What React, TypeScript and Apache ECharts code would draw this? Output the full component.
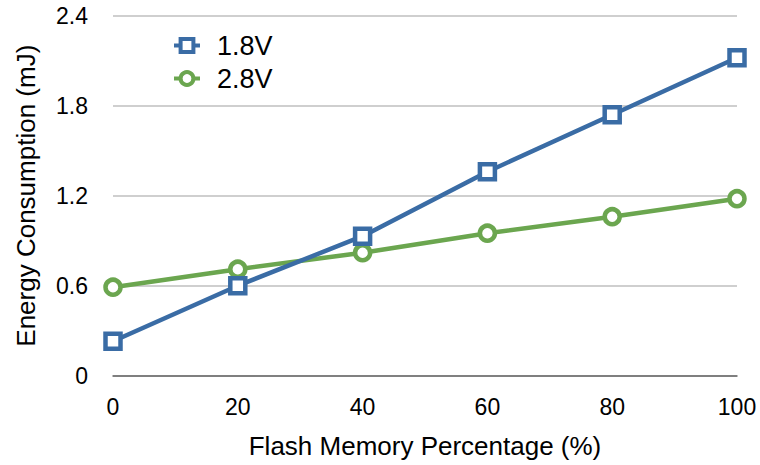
import React, { useEffect, useRef } from "react";
import * as echarts from "echarts";

const xValues = [0, 20, 40, 60, 80, 100];
const series18 = [0.23, 0.6, 0.93, 1.36, 1.74, 2.12];
const series28 = [0.59, 0.71, 0.82, 0.95, 1.06, 1.18];
const seriesNames = ["1.8V", "2.8V"];
const xTitle = "Flash Memory Percentage (%)";
const yTitle = "Energy Consumption (mJ)";

const BLUE = "#3A6CA5";
const GREEN = "#6BA64F";
const FONT = "'Liberation Sans', Arial, sans-serif";

export default function App() {
  const ref = useRef<HTMLDivElement>(null);
  useEffect(() => {
    if (!ref.current) return;
    const chart = echarts.init(ref.current, undefined, { renderer: "svg" });
    chart.setOption({
      animation: false,
      backgroundColor: "#ffffff",
      textStyle: { fontFamily: FONT },
      grid: { left: 113, right: 23, top: 15.7, bottom: 89.3 },
      legend: {
        data: seriesNames,
        orient: "vertical",
        left: 167,
        top: 27,
        itemWidth: 26,
        itemHeight: 16,
        itemGap: 6,
        itemStyle: { borderWidth: 4 },
        lineStyle: { width: 4 },
        textStyle: { fontSize: 27, color: "#000", fontFamily: FONT, padding: [0, 0, 0, 12] },
      },
      xAxis: {
        type: "value",
        min: 0,
        max: 100,
        interval: 20,
        name: xTitle,
        nameLocation: "middle",
        nameGap: 57,
        nameTextStyle: { fontSize: 26, color: "#000", fontFamily: FONT },
        axisLine: { show: true, lineStyle: { color: "#666", width: 1.5 } },
        axisTick: { show: false },
        splitLine: { show: false },
        axisLabel: { fontSize: 23, color: "#000", margin: 20, fontFamily: FONT },
      },
      yAxis: {
        type: "value",
        min: 0,
        max: 2.4,
        interval: 0.6,
        name: yTitle,
        nameLocation: "middle",
        nameGap: 74,
        nameRotate: 90,
        nameTextStyle: { fontSize: 26, color: "#000", fontFamily: FONT },
        axisLine: { show: false },
        axisTick: { show: false },
        splitLine: { show: true, lineStyle: { color: "#BFBFBF", width: 1.5 } },
        axisLabel: {
          fontSize: 23,
          color: "#000",
          margin: 25,
          fontFamily: FONT,
          formatter: (v: number) => (v === 0 ? "0" : v.toFixed(1)),
        },
      },
      series: [
        {
          name: seriesNames[0],
          type: "line",
          z: 3,
          data: xValues.map((x, i) => [x, series18[i]]),
          symbol: "rect",
          symbolSize: 15,
          color: BLUE,
          lineStyle: { color: BLUE, width: 4.5 },
          itemStyle: { color: "#ffffff", borderColor: BLUE, borderWidth: 4.5 },
        },
        {
          name: seriesNames[1],
          type: "line",
          z: 2,
          data: xValues.map((x, i) => [x, series28[i]]),
          symbol: "circle",
          symbolSize: 15,
          color: GREEN,
          lineStyle: { color: GREEN, width: 4.5 },
          itemStyle: { color: "#ffffff", borderColor: GREEN, borderWidth: 4.5 },
        },
      ],
    });
    return () => chart.dispose();
  }, []);
  return (
    <div
      ref={ref}
      style={{ position: "fixed", left: 0, top: 0, width: 760, height: 465, background: "#fff" }}
    />
  );
}
